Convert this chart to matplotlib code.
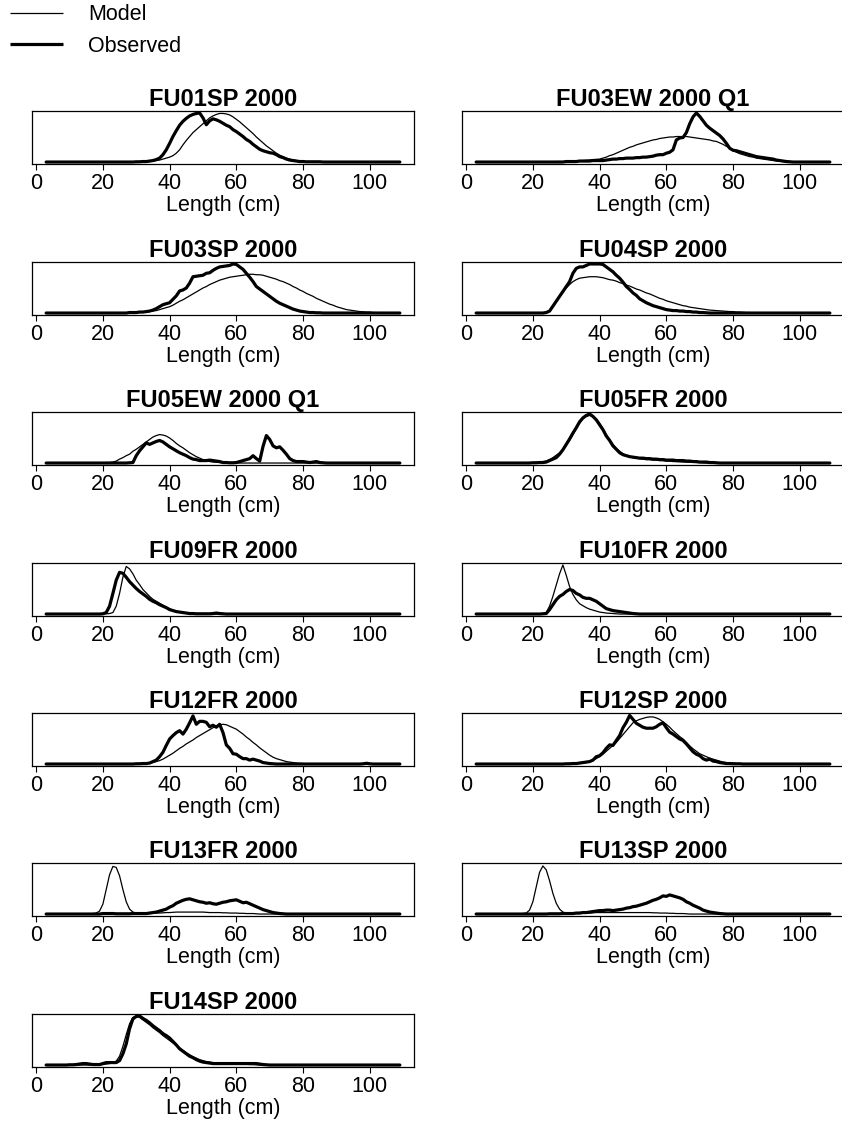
import numpy as np
import matplotlib
matplotlib.use("Agg")
import matplotlib.pyplot as plt
from matplotlib.lines import Line2D

plt.rcParams['font.family'] = ['Liberation Sans', 'DejaVu Sans']

# length classes (cm)
lengths = np.arange(3, 110)

# each series: first length class with data, then the values (scaled so panel top = 100)
fu01sp_obs = (30, [0.5, 0.5, 1, 1, 2, 3, 5, 8, 15, 25, 38, 52, 64, 75, 83, 89, 94, 97, 99, 100,
                   90, 76, 84, 88, 86, 83, 79, 75, 72, 66, 62, 57, 52, 46, 42, 36, 31, 26, 23, 21,
                   19, 18, 15, 11, 9, 6, 4, 3, 2, 1, 1, 0.5, 0.5, 0.5, 0.5, 0.5])
fu01sp_mod = (30, [0.5, 0.5, 1, 1, 1, 2, 3, 4, 6, 8, 10, 13, 18, 25, 35, 44, 52, 60, 66, 72,
                   78, 84, 90, 94, 97, 99, 99, 98, 96, 92, 87, 82, 76, 70, 64, 58, 51, 45, 39, 33,
                   28, 23, 18, 14, 11, 8, 6, 4, 3, 2, 1, 0.5, 0.5, 0.3])

fu03ew_obs = (30, [1, 1, 1, 1, 2, 2, 2, 2, 3, 3, 3, 3, 4, 5, 6, 6, 7, 7, 8, 8,
                   8, 9, 9, 10, 10, 11, 12, 14, 15, 15, 18, 20, 25, 45, 49, 50, 60, 78, 92, 100,
                   93, 84, 75, 69, 64, 59, 54, 47, 38, 28, 24, 23, 21, 19, 17, 15, 13, 11, 10, 9,
                   8, 7, 6, 4, 3, 2, 1, 0.5])
fu03ew_mod = (25, [0.5, 0.5, 1, 1, 1, 1, 1.5, 2, 2, 2.5, 3, 3.5, 4, 5, 5.5, 6, 8, 10, 13, 15,
                   18, 21, 24, 27, 30, 32, 35, 37, 39, 41, 43, 45, 46, 48, 49, 50, 51, 51, 52, 52,
                   52, 52, 51, 50, 49, 48, 47, 46, 45, 43, 42, 39, 36, 32, 28, 23, 20, 17, 15, 13,
                   11, 10, 8, 7, 6, 5, 4, 3, 2, 1.5, 1, 0.5, 0.5])

fu03sp_obs = (28, [1, 1, 1, 2, 2, 3, 4, 6, 9, 13, 17, 19, 21, 28, 35, 45, 47, 51, 61, 74,
                   75, 76, 77, 81, 82, 87, 91, 94, 95, 96, 97, 100, 99, 94, 89, 81, 73, 64, 54, 49,
                   44, 39, 34, 29, 24, 20, 17, 14, 11, 8, 6, 4, 3, 2, 1, 1, 0.5, 0.5])
fu03sp_mod = (28, [1, 1, 1, 1.5, 2, 2.5, 3, 4, 5, 7, 9, 11, 13, 16, 20, 24, 27, 31, 35, 39,
                   43, 47, 51, 54, 58, 61, 64, 67, 69, 71, 73, 74, 75, 76, 77, 78, 79, 79, 78, 78,
                   77, 75, 73, 71, 69, 66, 64, 61, 58, 54, 51, 47, 44, 40, 37, 34, 30, 27, 24, 21,
                   18, 16, 13, 11, 9, 7, 6, 5, 4, 3, 2.5, 2, 2, 1, 1, 0.5])

fu04sp_obs = (24, [1, 4, 14, 24, 34, 44, 54, 64, 81, 91, 94, 94, 97, 100, 100, 100, 100, 99, 94, 89,
                   84, 77, 71, 63, 54, 48, 41, 36, 29, 25, 21, 18, 15, 13, 11, 9, 7, 6, 5, 5,
                   4, 4, 3, 3, 2, 2, 1, 1, 0.5])
fu04sp_mod = (24, [2, 5, 15, 24, 33, 42, 51, 58, 64, 68, 71, 72, 73, 74, 74, 74, 73, 72, 70, 68,
                   67, 65, 62, 60, 57, 55, 52, 49, 47, 44, 41, 39, 36, 33, 30, 28, 25, 23, 21, 19,
                   17, 15, 14, 12, 11, 10, 9, 8, 7, 6, 5.5, 5, 4.5, 4, 3.5, 3, 3, 2, 2, 1.5,
                   1, 1, 0.5])

fu05ew_obs = (28, [0.5, 1, 15, 25, 33, 41, 38, 41, 44, 46, 43, 38, 33, 29, 25, 21, 18, 15, 11, 8,
                   7, 5, 5, 5, 6, 5, 4, 3, 1, 1, 0.5, 0.5, 1, 3, 5, 7, 9, 15, 9, 4,
                   34, 56, 48, 35, 31, 33, 26, 18, 9, 5, 3, 3, 3, 2, 1, 2, 3, 1, 0.5])
fu05ew_mod = (18, [0.5, 0.5, 0.5, 1, 1, 2, 4, 8, 11, 15, 18, 24, 28, 33, 38, 43, 48, 53, 56, 58,
                   57, 55, 51, 46, 40, 35, 31, 26, 21, 17, 13, 10, 7, 5, 3, 2, 1.5, 1, 0.5, 0.5,
                   0.5, 0.5, 0.5])

fu05fr_obs = (20, [0.5, 0.5, 1, 1, 2, 5, 8, 11, 18, 27, 38, 49, 61, 72, 84, 92, 97, 100, 95, 88,
                   78, 68, 55, 46, 35, 28, 21, 17, 15, 13, 12, 11, 10, 10, 9, 9, 8, 8, 7, 7,
                   6, 6, 6, 5, 5, 5, 4, 4, 3, 3, 2, 2, 2, 1, 1, 0.5])
fu05fr_mod = (18, [0.5, 1, 1, 1.5, 2, 3, 4, 7, 11, 16, 21, 28, 36, 46, 58, 70, 81, 90, 95, 97,
                   95, 90, 81, 70, 58, 48, 38, 30, 24, 19, 15, 13, 11, 10, 9, 8, 7, 7, 6, 6,
                   5, 5, 4, 4, 3, 3, 2.5, 2, 2, 1.5, 1.5, 1, 1, 0.5])

fu09fr_obs = (20, [0.5, 3, 16, 42, 69, 85, 83, 75, 66, 59, 52, 46, 41, 36, 30, 26, 23, 19, 16, 13,
                   9, 7, 5, 4, 3, 2, 1, 1, 0.5, 0.5, 0.5, 0.5, 0.5, 1, 2, 1, 0.5])
fu09fr_mod = (21, [0.5, 1, 3, 16, 42, 75, 97, 92, 82, 69, 60, 50, 43, 36, 30, 26, 22, 18, 14, 11,
                   8, 6, 4, 3, 2, 1, 0.5])

fu10fr_obs = (23, [0.5, 1, 9, 19, 29, 36, 40, 46, 50, 48, 42, 39, 34, 32, 32, 29, 26, 21, 16, 11,
                   9, 7, 6, 5, 4, 3, 2, 1, 0.5])
fu10fr_mod = (22, [0.5, 1, 3, 16, 36, 59, 82, 100, 79, 56, 40, 29, 21, 17, 13, 10, 8, 6, 4, 3,
                   2, 1.5, 1, 0.5])

fu12fr_obs = (30, [0.5, 0.5, 1, 1, 2, 5, 8, 15, 24, 38, 51, 58, 64, 68, 61, 71, 84, 98, 81, 87,
                   87, 85, 76, 79, 75, 81, 64, 39, 32, 21, 20, 15, 11, 11, 8, 10, 8, 6, 3, 2,
                   1, 0.5] + [0] * 26 + [0.5, 1.5, 0.5])
fu12fr_mod = (28, [0.5, 0.5, 1, 1, 1.5, 2, 2.5, 3, 5, 7, 10, 14, 18, 22, 27, 32, 36, 41, 45, 49,
                   54, 58, 62, 66, 70, 74, 77, 80, 81, 80, 77, 74, 71, 66, 61, 55, 50, 44, 39, 33,
                   28, 23, 18, 14, 11, 9, 7, 5, 4, 3, 2, 1.5, 1, 0.5])

fu12sp_obs = (30, [0.5, 0.5, 1, 1, 2, 3, 4, 5, 8, 15, 17, 23, 32, 39, 38, 48, 58, 74, 85, 99,
                   91, 83, 79, 75, 73, 73, 73, 76, 81, 84, 74, 65, 61, 56, 51, 48, 41, 33, 25, 20,
                   17, 11, 8, 10, 6, 5, 3, 2, 1, 1, 0.5, 0.5, 0.5])
fu12sp_mod = (30, [0.5, 0.5, 1, 1, 1.5, 2, 3, 5, 8, 11, 15, 20, 26, 32, 38, 44, 52, 60, 68, 76,
                   84, 88, 91, 93, 95, 96, 96, 94, 91, 86, 81, 75, 68, 62, 56, 51, 44, 37, 31, 26,
                   21, 18, 15, 12, 10, 8, 6, 4, 3, 2.5, 2, 1, 0.5])

fu13fr_obs = (20, [1, 1, 1, 1, 0.5, 0.5, 0.5, 0.5, 0.5, 1, 1, 1, 1, 1, 2, 3, 4, 6, 8, 10,
                   14, 17, 22, 25, 28, 30, 31, 29, 27, 25, 24, 22, 23, 21, 20, 22, 24, 25, 27, 28,
                   29, 26, 23, 24, 21, 18, 15, 12, 9, 7, 5, 3, 2, 1, 0.5])
fu13fr_mod = (15, [0.5, 0.5, 1, 2, 6, 20, 50, 80, 97, 95, 78, 50, 25, 10, 4, 2, 1, 1, 1, 1,
                   1.5, 2, 2, 2.5, 3, 3, 3.5, 4, 4, 4, 4, 4, 4, 4, 4, 4, 3.5, 3, 3, 3,
                   3, 2.5, 2.5, 2, 2, 2, 1.5, 1.5, 1, 1, 1, 0.5])

fu13sp_obs = (25, [0.5, 0.5, 0.5, 0.5, 1, 1, 1, 1, 2, 2, 3, 3, 4, 5, 6, 7, 7, 8, 8, 7,
                   8, 9, 10, 12, 13, 15, 16, 18, 20, 22, 25, 28, 30, 33, 37, 36, 39, 37, 35, 33,
                   30, 25, 22, 18, 15, 12, 8, 6, 4, 3, 2, 1, 0.5])
fu13sp_mod = (15, [0.5, 0.5, 1, 2, 8, 25, 55, 85, 98, 90, 68, 42, 22, 10, 4, 2, 1, 1, 1, 1,
                   1.5, 2, 2, 2.5, 3, 3, 3, 3, 3, 3, 3, 3, 3, 3, 3, 3, 3, 3, 3, 3,
                   3, 2.5, 2.5, 2, 2, 2, 1.5, 1.5, 1, 1, 1, 0.5])

fu14sp_obs = (10, [0.5, 0.5, 1, 2, 3, 3, 2, 1, 1, 1, 3, 5, 5, 5, 5, 9, 23, 43, 74, 94,
                   99, 100, 95, 91, 86, 80, 75, 70, 64, 60, 55, 48, 41, 33, 28, 23, 18, 15, 11, 8,
                   6, 5, 4, 3, 3, 3, 3, 3, 3, 3, 3, 3, 3, 3, 3, 3, 3, 2, 1, 0.5])
fu14sp_mod = (18, [0.5, 0.5, 1, 2, 3, 5, 8, 18, 38, 62, 84, 97, 100, 97, 92, 87, 82, 76, 71, 66,
                   60, 55, 50, 45, 40, 35, 30, 25, 21, 17, 14, 11, 9, 7, 6, 5, 4, 4, 3, 3,
                   2.5, 2, 2, 2, 1.5, 1.5, 1, 1, 0.5])

titles = ['FU01SP 2000', 'FU03EW 2000 Q1', 'FU03SP 2000', 'FU04SP 2000',
          'FU05EW 2000 Q1', 'FU05FR 2000', 'FU09FR 2000', 'FU10FR 2000',
          'FU12FR 2000', 'FU12SP 2000', 'FU13FR 2000', 'FU13SP 2000', 'FU14SP 2000']
observed = [fu01sp_obs, fu03ew_obs, fu03sp_obs, fu04sp_obs, fu05ew_obs, fu05fr_obs, fu09fr_obs,
            fu10fr_obs, fu12fr_obs, fu12sp_obs, fu13fr_obs, fu13sp_obs, fu14sp_obs]
model = [fu01sp_mod, fu03ew_mod, fu03sp_mod, fu04sp_mod, fu05ew_mod, fu05fr_mod, fu09fr_mod,
         fu10fr_mod, fu12fr_mod, fu12sp_mod, fu13fr_mod, fu13sp_mod, fu14sp_mod]


def full_series(series):
    start, vals = series
    y = np.zeros(len(lengths))
    i = start - lengths[0]
    y[i:i + len(vals)] = vals
    return y


W, H = 842, 1121
fig = plt.figure(figsize=(W / 100, H / 100), dpi=100)

col_left = [32, 462]
row_top = [111, 262, 412, 563, 713, 863, 1014]
box_w, box_h = 382, 53

for k, title in enumerate(titles):
    r, c = divmod(k, 2)
    x0, y0 = col_left[c], row_top[r]
    ax = fig.add_axes([x0 / W, 1 - (y0 + box_h) / H, box_w / W, box_h / H])
    ax.plot(lengths, full_series(observed[k]), color='black', lw=2.3,
            solid_capstyle='round', solid_joinstyle='round')
    ax.plot(lengths, full_series(model[k]), color='black', lw=0.9,
            solid_capstyle='round', solid_joinstyle='round')
    ax.set_xlim(-1.24, 113.24)
    ax.set_ylim(-4, 104)
    ax.set_yticks([])
    ax.set_xticks([0, 20, 40, 60, 80, 100])
    ax.tick_params(axis='x', direction='out', length=4.5, width=0.8, pad=2,
                   labelsize=15.5, colors='black')
    for s in ax.spines.values():
        s.set_linewidth(0.9)
    ax.set_title(title, fontsize=17, fontweight='bold', pad=2)
    ax.set_xlabel('Length (cm)', fontsize=15.5, labelpad=0.5)

# legend in the top-left corner
for yy, lw, lab in [(13, 0.9, 'Model'), (44, 2.3, 'Observed')]:
    fig.add_artist(Line2D([10 / W, 63 / W], [1 - yy / H, 1 - yy / H],
                          color='black', lw=lw, solid_capstyle='butt'))
    fig.text(88 / W, 1 - (yy + 2) / H, lab, fontsize=15.5, va='center', ha='left')

fig.savefig('out.png', dpi=100)
